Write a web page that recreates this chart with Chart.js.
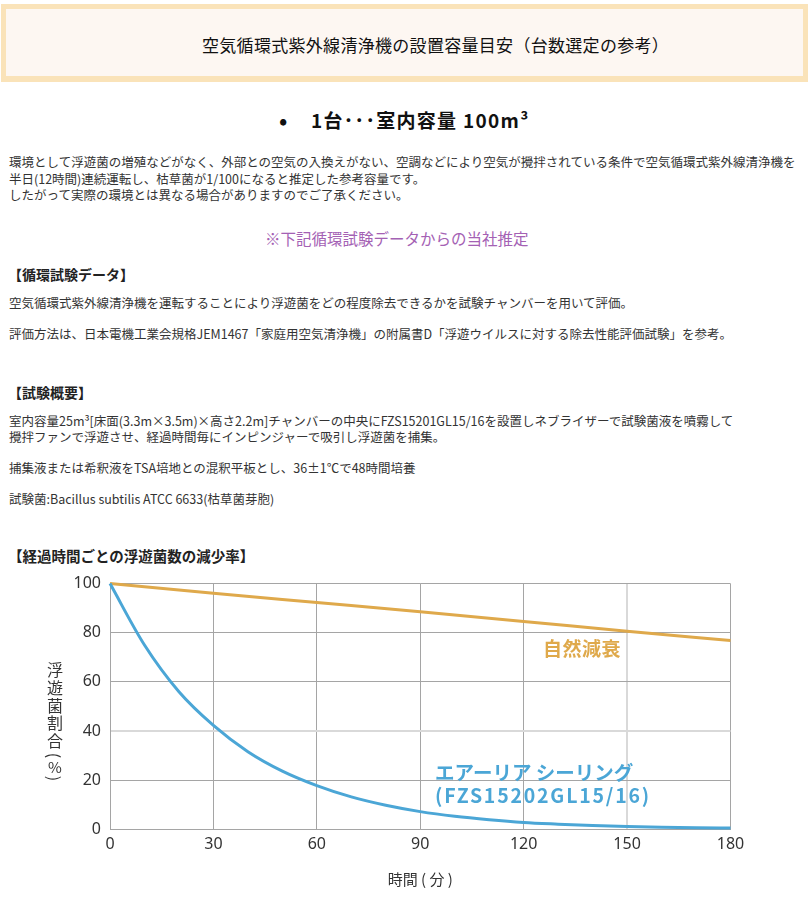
<!DOCTYPE html>
<html lang="ja">
<head>
<meta charset="utf-8">
<script src="https://cdn.jsdelivr.net/npm/chart.js@4.4.1/dist/chart.umd.min.js"></script>
<style>
  html, body { margin:0; padding:0; background:#fff; }
  body { width:810px; height:924px; position:relative; overflow:hidden;
         font-family:"Noto Sans CJK JP","Noto Sans",sans-serif; color:#333; }
  .abs { position:absolute; white-space:nowrap; }
  #hdr { left:1px; top:4px; width:797px; height:67px; background:#fdf7f2;
         border:5px solid #fae3b9; border-bottom-width:6px; }
  #hdrTitle { left:202px; top:34px; font-size:17px; color:#111; line-height:22px; letter-spacing:0.3px; }
  #bullet { left:279px; top:106px; font-size:22px; font-weight:700; color:#111; line-height:26px; }
  #bulletLine { left:311px; top:108px; font-size:19px; font-weight:700; color:#111; line-height:24px; letter-spacing:1.3px; }
  .p { font-size:12.5px; line-height:16.5px; color:#333; left:9px; }
  .h { font-size:14px; font-weight:700; color:#222; left:8px; line-height:20px; }
  #note { left:265px; top:227px; font-size:15.5px; color:#a461b4; line-height:22px; }
  #chartBox { position:absolute; left:0; top:565px; width:810px; height:359px; }
  #ytitle { left:45px; top:661px; width:20px; display:flex; flex-direction:column; align-items:center; color:#333; }
  #ytitle span { display:block; font-size:16px; height:17.8px; line-height:17.8px; text-align:center; }
  #ytitle span.rp { height:11px; line-height:11px; transform:rotate(90deg); }
  #ytitle span.pc { height:12px; line-height:12px; font-size:15px; }
</style>
</head>
<body>
<div id="hdr" class="abs"></div>
<div id="hdrTitle" class="abs">空気循環式紫外線清浄機の設置容量目安（台数選定の参考）</div>
<div id="bullet" class="abs">•</div>
<div id="bulletLine" class="abs">1台･･･室内容量 100m³</div>

<div class="abs p" style="top:154px">環境として浮遊菌の増殖などがなく、外部との空気の入換えがない、空調などにより空気が攪拌されている条件で空気循環式紫外線清浄機を</div>
<div class="abs p" style="top:171px">半日(12時間)連続運転し、枯草菌が1/100になると推定した参考容量です。</div>
<div class="abs p" style="top:187px">したがって実際の環境とは異なる場合がありますのでご了承ください。</div>

<div id="note" class="abs">※下記循環試験データからの当社推定</div>

<div class="abs h" style="top:264px">【循環試験データ】</div>
<div class="abs p" style="top:295px">空気循環式紫外線清浄機を運転することにより浮遊菌をどの程度除去できるかを試験チャンバーを用いて評価。</div>
<div class="abs p" style="top:326px">評価方法は、日本電機工業会規格JEM1467「家庭用空気清浄機」の附属書D「浮遊ウイルスに対する除去性能評価試験」を参考。</div>

<div class="abs h" style="top:382px">【試験概要】</div>
<div class="abs p" style="top:413px">室内容量25m³[床面(3.3m×3.5m)×高さ2.2m]チャンバーの中央にFZS15201GL15/16を設置しネブライザーで試験菌液を噴霧して</div>
<div class="abs p" style="top:429px">攪拌ファンで浮遊させ、経過時間毎にインピンジャーで吸引し浮遊菌を捕集。</div>
<div class="abs p" style="top:460px">捕集液または希釈液をTSA培地との混釈平板とし、36±1℃で48時間培養</div>
<div class="abs p" style="top:491px">試験菌:Bacillus subtilis ATCC 6633(枯草菌芽胞)</div>

<div class="abs h" style="top:546px; font-size:14.5px">【経過時間ごとの浮遊菌数の減少率】</div>

<div id="chartBox"><canvas id="c"></canvas></div>
<div id="ytitle" class="abs"><span>浮</span><span>遊</span><span>菌</span><span>割</span><span>合</span><span class="rp">(</span><span class="pc">%</span><span class="rp">)</span></div>

<script>
// ---- data ----
const airTimes   = [0, 10, 20, 30, 40, 50, 60, 70, 80, 90, 100, 110, 120, 130, 140, 150, 160, 170, 180];
const airValues  = [100, 75, 56, 42.3, 31.6, 23.7, 17.8, 13.2, 9.8, 7.2, 5.3, 3.9, 2.8, 2.1, 1.5, 1.1, 0.8, 0.6, 0.5];
const natTimes   = [0, 30, 60, 90, 120, 150, 180];
const natValues  = [100, 96.1, 92.3, 88.5, 84.6, 80.6, 76.8];
const xTicks     = [0, 30, 60, 90, 120, 150, 180];
const yTicks     = [0, 20, 40, 60, 80, 100];
const seriesNames = ['エアーリア シーリング', '自然減衰'];

const BLUE = '#4ba6d6', ORANGE = '#dfa94b';
const GRID = '#a5a5a5', GRID_LIGHT = '#d9d9d9';

const toPts = (xs, ys) => xs.map((x, i) => ({ x, y: ys[i] }));

const annotations = [
  { lines: ['自然減衰'], x: 125.6, y: 73.5, color: ORANGE, size: 19, spacing: [0.5] },
  { lines: ['エアーリア シーリング', '(FZS15202GL15/16)'], x: 94.3, y: 22.9, color: BLUE, size: 19.5, spacing: [0, 1.8] }
];

const labelPlugin = {
  id: 'seriesLabels',
  afterDatasetsDraw(chart) {
    const { ctx, scales } = chart;
    ctx.save();
    ctx.textAlign = 'left';
    ctx.textBaseline = 'middle';
    annotations.forEach(a => {
      const px = scales.x.getPixelForValue(a.x);
      const py = scales.y.getPixelForValue(a.y);
      ctx.fillStyle = a.color;
      ctx.font = `700 ${a.size}px "Noto Sans CJK JP", "Noto Sans", sans-serif`;
      a.lines.forEach((t, i) => {
        ctx.letterSpacing = (a.spacing[i] || 0) + 'px';
        ctx.fillText(t, px, py + i * 23);
      });
    });
    ctx.restore();
  }
};

new Chart(document.getElementById('c'), {
  type: 'line',
  data: {
    datasets: [
      { label: seriesNames[0], data: toPts(airTimes, airValues), borderColor: BLUE, borderWidth: 3,
        pointRadius: 0, cubicInterpolationMode: 'monotone', clip: false, fill: false },
      { label: seriesNames[1], data: toPts(natTimes, natValues), borderColor: ORANGE, borderWidth: 3,
        pointRadius: 0, cubicInterpolationMode: 'monotone', clip: false, fill: false }
    ]
  },
  options: {
    responsive: true,
    maintainAspectRatio: false,
    animation: false,
    layout: { padding: { left: 0, right: 79.5, top: 17.7, bottom: 0 } },
    plugins: { legend: { display: false }, tooltip: { enabled: false } },
    scales: {
      x: {
        type: 'linear', min: 0, max: 180,
        afterBuildTicks: s => { s.ticks = xTicks.map(v => ({ value: v })); },
        afterFit: s => { s.height = 94.7; },
        ticks: { color: '#333', font: { family: '"Noto Sans", sans-serif', size: 16 }, padding: 6, maxRotation: 0 },
        grid: {
          drawTicks: false,
          color: c => (c.tick && c.tick.value === 150) ? GRID_LIGHT : GRID,
          lineWidth: c => (c.tick && c.tick.value === 150) ? 2 : 1
        },
        border: { color: GRID, width: 1 },
        title: { display: true, text: '時間 ( 分 )', color: '#333',
                 font: { family: '"Noto Sans CJK JP", sans-serif', size: 15 }, padding: { top: 0, bottom: 36 } }
      },
      y: {
        type: 'linear', min: 0, max: 100,
        afterBuildTicks: s => { s.ticks = yTicks.map(v => ({ value: v })); },
        afterFit: s => { s.width = 110; },
        ticks: { color: '#333', font: { family: '"Noto Sans", sans-serif', size: 16 }, padding: 9 },
        grid: {
          drawTicks: false,
          color: c => (c.tick && c.tick.value === 40) ? GRID_LIGHT : GRID,
          lineWidth: c => (c.tick && c.tick.value === 40) ? 2 : 1
        },
        border: { color: GRID, width: 1 }
      }
    }
  },
  plugins: [labelPlugin]
});
</script>
</body>
</html>
